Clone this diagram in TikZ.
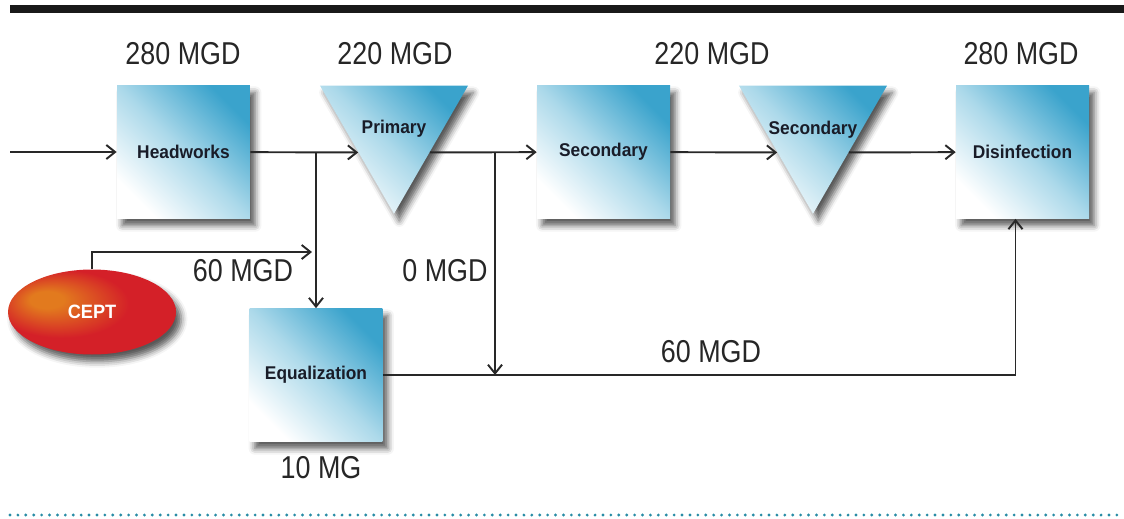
\documentclass[tikz,border=0pt]{standalone}
\usepackage{fontspec}
\usepackage{xcolor}
\usepackage{tikz}
\usetikzlibrary{shapes,arrows.meta,positioning,calc,shadows.blur}

\setmainfont{Liberation Sans}
\newfontfamily\mgdfont[FakeStretch=0.85]{Liberation Sans}
\newfontfamily\unitfont[FakeStretch=0.94]{Liberation Sans}

\definecolor{boxblue}{RGB}{58,163,204}
\definecolor{boxmid}{RGB}{172,217,234}
\definecolor{ceptred}{RGB}{212,32,40}
\definecolor{ceptorange}{RGB}{226,122,30}
\definecolor{linegray}{RGB}{40,40,40}
\definecolor{dotteal}{RGB}{40,140,165}
\definecolor{unittext}{RGB}{25,28,40}

\pgfdeclareradialshading{ceptglow}{\pgfpoint{-15bp}{8bp}}{color(0bp)=(ceptorange); color(5bp)=(ceptorange); color(20bp)=(ceptred); color(50bp)=(ceptred)}

\tikzset{
  unitlbl/.style={font=\unitfont\bfseries\fontsize{10.5}{12}\selectfont, text=unittext, inner sep=0pt},
  soft/.style={blur shadow={shadow xshift=3pt, shadow yshift=-4pt, shadow blur radius=3.5pt, shadow opacity=65}},
  unit/.style={unitlbl, soft,
    top color=boxblue, bottom color=white, middle color=boxmid, shading angle=-45},
  tank/.style={unit, minimum size=2.66cm},
  clarifier/.style={unit, regular polygon, regular polygon sides=3, regular polygon rotate=180, minimum size=3.42cm},
  rate/.style={font=\mgdfont\fontsize{18}{20}\selectfont, text=black!85, inner sep=0pt},
  flow/.style={draw=linegray, line width=1.1pt, -{Straight Barb[length=5pt,width=8pt]}},
}

\begin{document}
\begin{tikzpicture}[x=0.02cm, y=-0.02cm]
    \useasboundingbox (0,0) rectangle (1124,518);

    % Top rule
    \draw[line width=4.6pt, black!90] (10,9) -- (1124,9);

    % Units
    \node[tank] (head) at (183.5,152) {Headworks};
    \node[clarifier] (prim) at (394,128.3) {};
    \node[unitlbl] (primtxt) at (prim.center) {Primary};
    \node[tank] (sec) at (603.5,152) {Secondary};
    \node[clarifier] (secc) at (813,128.3) {};
    \node[unitlbl] (secctxt) at ([yshift=-1pt]secc.center) {Secondary};
    \node[tank] (dis) at (1022.5,152) {Disinfection};
    \node[tank] (eq) at (316,375) {Equalization};
    \node[ellipse, soft, minimum width=3.36cm, minimum height=1.7cm, shading=ceptglow,
      font=\unitfont\bfseries\fontsize{11}{12}\selectfont, text=white] (cept) at (92,312) {CEPT};

    % Flow rates
    \node[rate] (q1) at (183,53.5) {280 MGD};
    \node[rate] (q2) at (395,53.5) {220 MGD};
    \node[rate] (q3) at (712,53.5) {220 MGD};
    \node[rate] (q4) at (1021,53.5) {280 MGD};
    \node[rate] (q5) at (243,270.5) {60 MGD};
    \node[rate] (q6) at (445,270.5) {0 MGD};
    \node[rate] (q7) at (711,352) {60 MGD};
    \node[rate] (q8) at (321,467.5) {10 MG};

    % Piping
    \coordinate (feed) at (10,152);
    \coordinate (split) at (eq.north |- head.east);
    \coordinate (bypass) at (495,152);
    \coordinate (ceptin) at (312,252);

    \draw[flow] (feed) -- (head);
    \draw[flow] (head) -- ($(prim.corner 3)!0.52!(prim.corner 1)$);
    \draw[flow] (split) -- (eq);
    \draw[flow] (cept.north) |- (ceptin);
    \draw[flow] ($(prim.corner 2)!0.52!(prim.corner 1)$) -- (sec);
    \draw[flow] (bypass) -- (bypass |- eq.east);
    \draw[flow] (sec) -- ($(secc.corner 3)!0.52!(secc.corner 1)$);
    \draw[flow] ($(secc.corner 2)!0.52!(secc.corner 1)$) -- (dis);
    \draw[flow] (eq) -| ([xshift=-4pt]dis.south);

    % Bottom rule
    \draw[dotteal, line width=1.8pt, line cap=round, dash pattern=on 0pt off 4.5pt] (10,515) -- (1124,515);
\end{tikzpicture}
\end{document}
